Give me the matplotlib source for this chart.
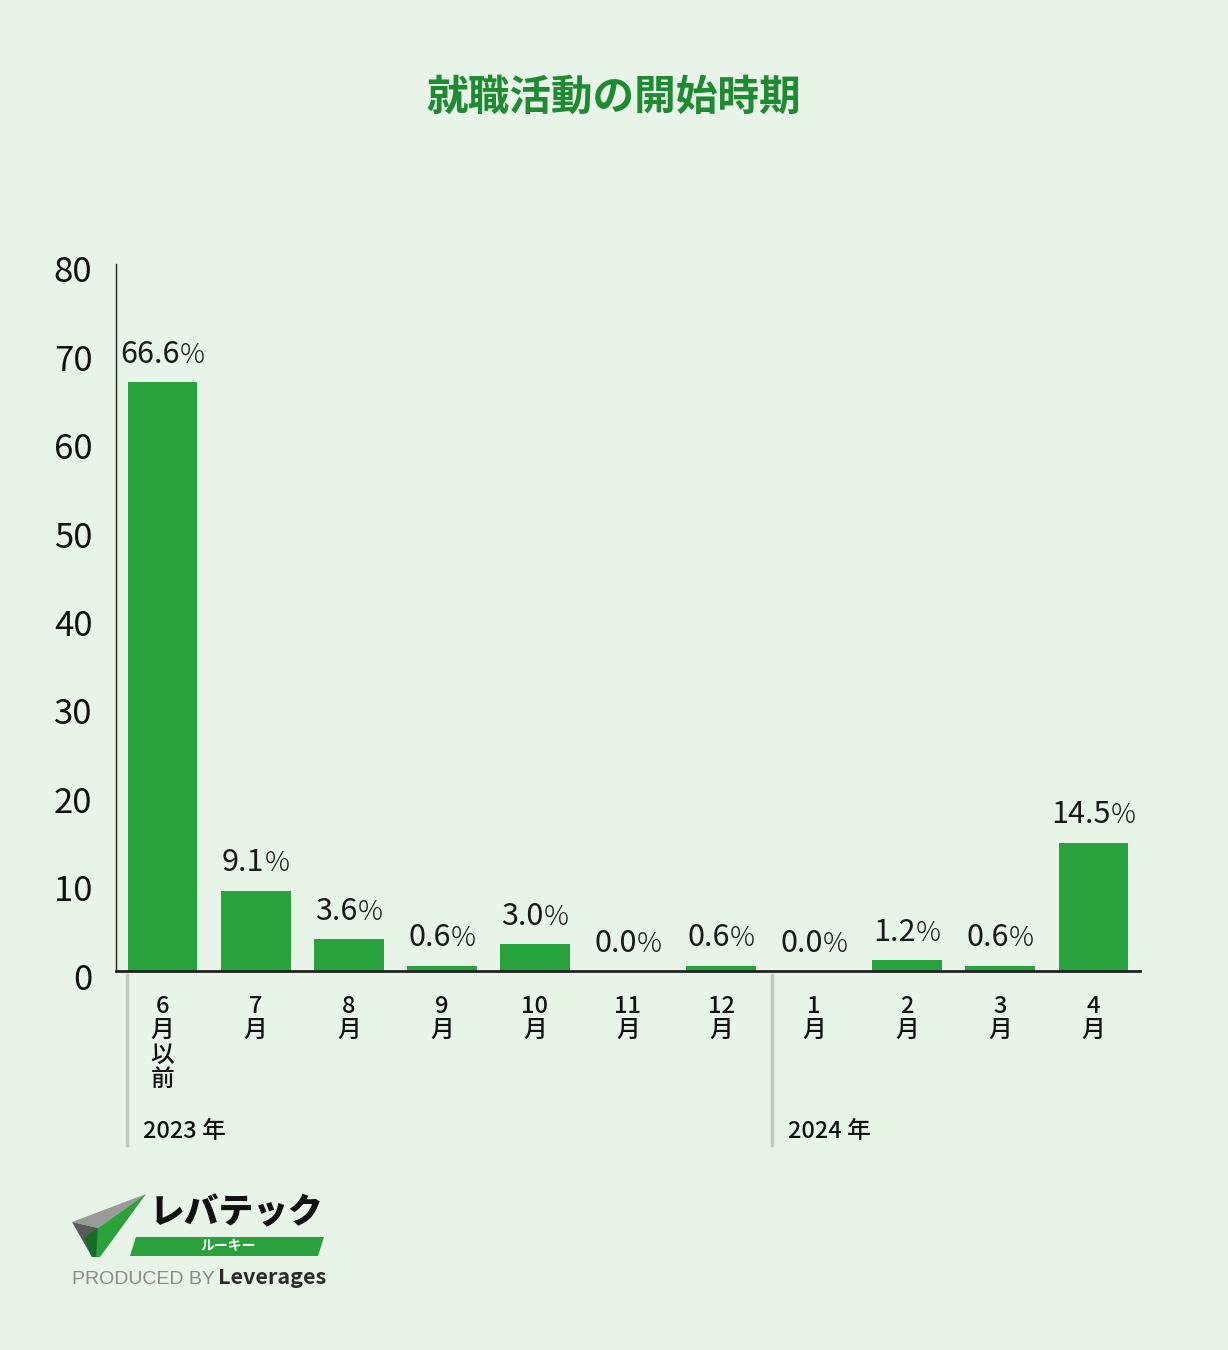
import matplotlib
matplotlib.use("Agg")
import matplotlib.pyplot as plt
import matplotlib.transforms as mtransforms
from matplotlib.patches import Polygon
from matplotlib.offsetbox import TextArea, HPacker, AnnotationBbox

plt.rcParams['font.family'] = ['Noto Sans CJK JP', 'DejaVu Sans']

categories = ["6\n月\n以\n前", "7\n月", "8\n月", "9\n月", "10\n月", "11\n月", "12\n月",
              "1\n月", "2\n月", "3\n月", "4\n月"]
values = [66.6, 9.1, 3.6, 0.6, 3.0, 0.0, 0.6, 0.0, 1.2, 0.6, 14.5]
yticks = [0, 10, 20, 30, 40, 50, 60, 70, 80]
years = ["2023 年", "2024 年"]

BG = "#e7f4e7"
BAR = "#28a23c"
TITLE = "#1f8a32"

W, H = 1228, 1350
fig = plt.figure(figsize=(W/100, H/100), dpi=100, facecolor=BG)

def fx(x): return x / W
def fy(y): return 1 - y / H

ax = fig.add_axes([fx(116), fy(971), fx(1140) - fx(116), fy(264) - fy(971)])
ax.set_facecolor(BG)
x = list(range(len(values)))
ax.bar(x, values, width=0.75, color=BAR, zorder=2)
ax.set_xlim(-0.5, len(values) - 0.5)
ax.set_ylim(0, 80)
ax.set_yticks(yticks)
ax.set_yticklabels([str(t) for t in yticks], fontsize=25, color="#111111")
ax.tick_params(axis='y', length=0, pad=17)
for lab in ax.get_yticklabels():
    lab.set_verticalalignment('center')
    lab.set_transform(lab.get_transform() + mtransforms.ScaledTranslation(0, -0.09, fig.dpi_scale_trans))

ax.set_xticks(x)
ax.set_xticklabels(categories, fontsize=17, color="#111111", linespacing=1.08,
                   va='top', fontweight='medium')
ax.tick_params(axis='x', length=0, pad=17)
for s in ['top', 'right']:
    ax.spines[s].set_visible(False)
ax.spines['left'].set_linewidth(1.0)
ax.spines['left'].set_color("#222222")
ax.spines['bottom'].set_linewidth(2.0)
ax.spines['bottom'].set_color("#222222")

for xi, v in zip(x, values):
    num = TextArea(f"{v:.1f}", textprops=dict(fontsize=22, color="#1a1a1a"))
    pct = TextArea("%", textprops=dict(fontsize=20, color="#1a1a1a", fontweight='light'))
    box = HPacker(children=[num, pct], pad=0, sep=0, align='baseline')
    ab = AnnotationBbox(box, (xi, v), xybox=(0, 9), xycoords='data',
                        boxcoords='offset points', box_alignment=(0.5, 0),
                        frameon=False, pad=0)
    ax.add_artist(ab)

# year separators and labels
sep_x = [0 - 0.375 - 0.01, 6.55]
for xd, yr in zip(sep_x, years):
    xpix = ax.transData.transform((xd, 0))[0]
    fig.add_artist(plt.Line2D([xpix / W, xpix / W], [fy(975), fy(1145)],
                              color="#c4c9c4", lw=2.5))
    fig.text((xpix + 16) / W, fy(1131), yr, fontsize=17, color="#111111",
             ha='left', va='center', fontweight='medium')

fig.text(0.5, fy(98), "就職活動の開始時期", fontsize=30, fontweight='bold',
         color=TITLE, ha='center', va='center')

# logo
def poly(pts, color):
    fig.add_artist(Polygon([(fx(a), fy(b)) for a, b in pts], closed=True,
                           facecolor=color, edgecolor='none', transform=fig.transFigure))

poly([(72, 1222), (146, 1194), (98, 1228)], "#9a9a9a")
poly([(72, 1222), (98, 1228), (92, 1257)], "#5a5a5a")
poly([(98, 1228), (146, 1194), (100, 1257), (92, 1257)], "#2aa13c")
poly([(84, 1238), (98, 1228), (96, 1257), (92, 1257)], "#176d26")
fig.text(fx(150), fy(1213), "レバテック", fontsize=25, fontweight='black',
         style='italic', color="#111111", ha='left', va='center')
poly([(136, 1237), (324, 1237), (318, 1256), (130, 1256)], "#2aa13c")
fig.text(fx(228), fy(1246), "ルーキー", fontsize=10, fontweight='bold',
         color="white", ha='center', va='center')
fig.text(fx(72), fy(1279), "PRODUCED BY", fontsize=14, color="#8a8a8a",
         ha='left', va='center', family=['Liberation Sans', 'DejaVu Sans'])
fig.text(fx(218), fy(1278), "Leverages", fontsize=15.5, fontweight='bold',
         color="#2a2a2a", ha='left', va='center')

fig.savefig("out.png", dpi=100, facecolor=BG)
